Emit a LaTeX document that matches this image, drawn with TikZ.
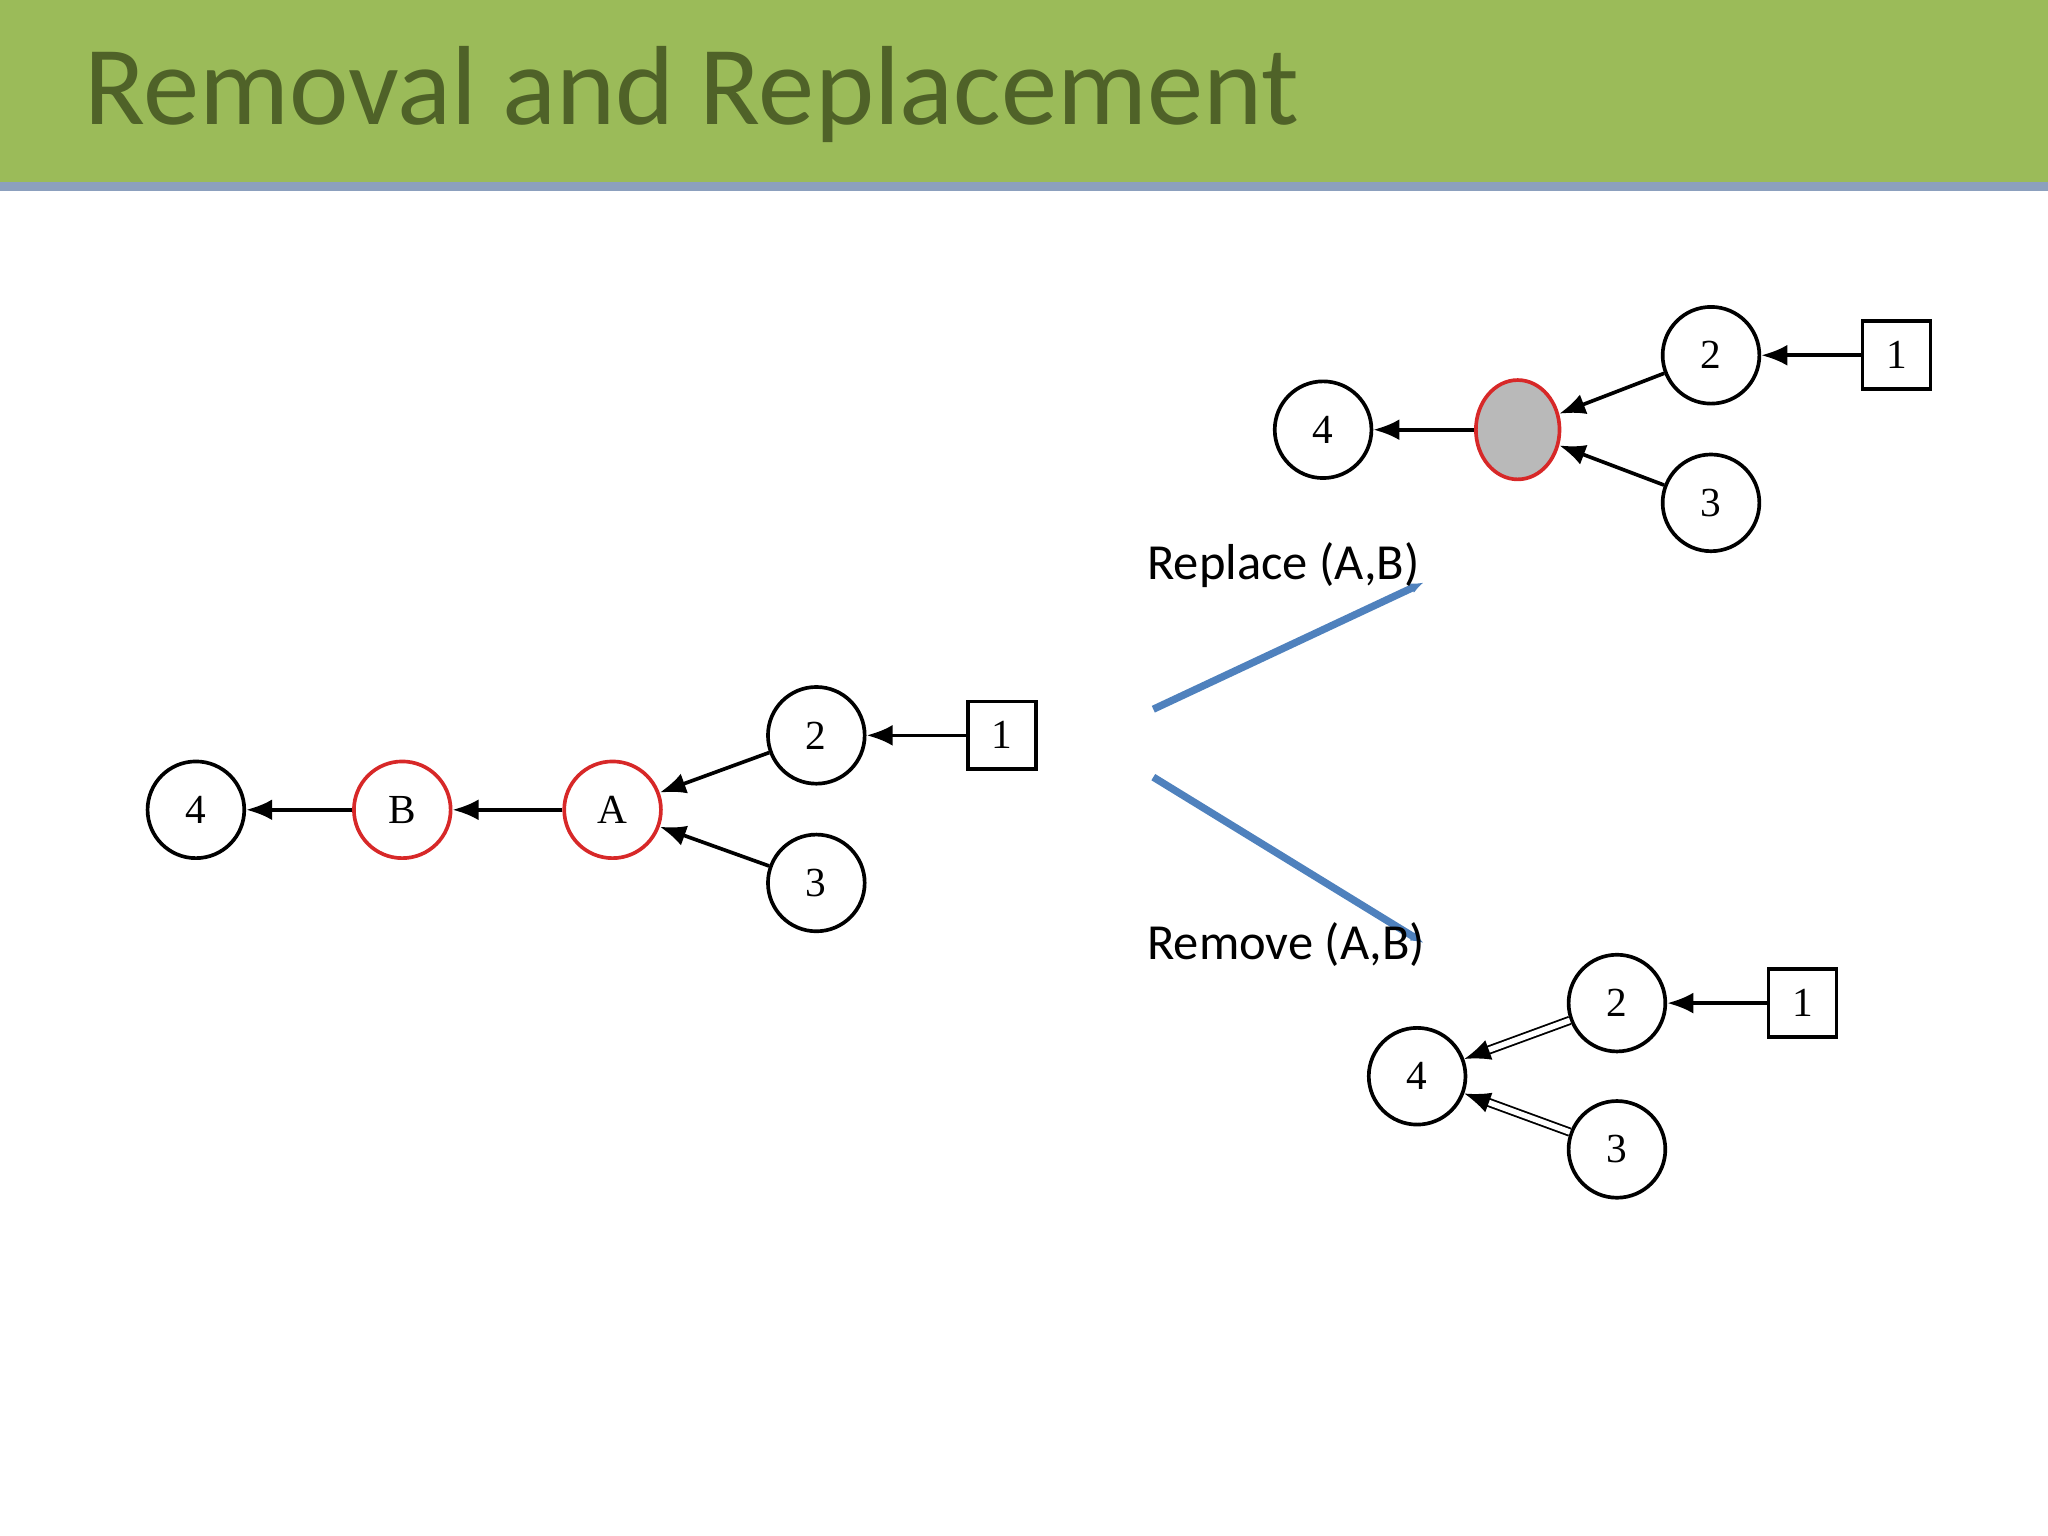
\documentclass[tikz,border=0pt]{standalone}
\usepackage{fontspec}
\setmainfont{Carlito}
\newfontfamily\serifnum{Liberation Serif}
\usetikzlibrary{arrows.meta,shapes.geometric}
\definecolor{bar}{RGB}{155,187,89}
\definecolor{bartext}{RGB}{79,98,40}
\definecolor{barline}{RGB}{140,160,190}
\definecolor{arr}{RGB}{79,129,189}
\definecolor{rd}{RGB}{215,40,40}
\begin{document}
\begin{tikzpicture}[x=0.01cm,y=-0.01cm,
  nd/.style={circle,draw,thick,minimum size=0.74cm,inner sep=0,font=\serifnum\fontsize{9}{9}\selectfont},
  red/.style={nd,draw=rd},
  sq/.style={rectangle,draw,thick,minimum size=0.52cm,inner sep=0,font=\serifnum\fontsize{9}{9}\selectfont},
  e/.style={-{Latex[length=0.2cm,width=0.16cm]},thick},
  de/.style={-{Latex[length=0.2cm,width=0.16cm]},double,double distance=1.2pt},
  blue/.style={-{Latex[length=0.1cm,width=0.08cm]},draw=arr,line width=1.6pt},
  lab/.style={font=\fontsize{11}{11}\selectfont,anchor=west}]
\useasboundingbox (0,0) rectangle (1568,1176);
\fill[bar] (0,0) rectangle (1568,141);
\draw[barline,line width=2pt] (0,143) -- (1568,143);
\node[anchor=west,text=bartext,font=\fontsize{24.5}{24}\selectfont] (title) at (52,72) {Removal and Replacement};
% left graph
\node[nd] (l4) at (150,620) {4};
\node[red] (lB) at (308,620) {B};
\node[red] (lA) at (469,620) {A};
\node[nd] (l2) at (625,563) {2};
\node[nd] (l3) at (625,676) {3};
\node[sq] (l1) at (767,563) {1};
\draw[e] (lB) -- (l4);
\draw[e] (lA) -- (lB);
\draw[e] (l2) -- (lA);
\draw[e] (l3) -- (lA);
\draw[e] (l1) -- (l2);
% top right
\node[nd] (t4) at (1013,329) {4};
\node[ellipse,draw=rd,thick,fill=gray!55,minimum width=0.64cm,minimum height=0.76cm,inner sep=0] (tx) at (1162,329) {};
\node[nd] (t2) at (1310,272) {2};
\node[nd] (t3) at (1310,385) {3};
\node[sq] (t1) at (1452,272) {1};
\draw[e] (tx) -- (t4);
\draw[e] (t2) -- (tx);
\draw[e] (t3) -- (tx);
\draw[e] (t1) -- (t2);
% bottom right
\node[nd] (b4) at (1085,824) {4};
\node[nd] (b2) at (1238,768) {2};
\node[nd] (b3) at (1238,880) {3};
\node[sq] (b1) at (1380,768) {1};
\draw[de] (b2) -- (b4);
\draw[de] (b3) -- (b4);
\draw[e] (b1) -- (b2);
% transitions
\coordinate (s1) at (883,543); \coordinate (e1) at (1090,446);
\coordinate (s2) at (883,595); \coordinate (e2) at (1090,722);
\draw[blue] (s1) -- (e1);
\draw[blue] (s2) -- (e2);
\node[lab] (rep) at (866,433) {Replace (A,B)};
\node[lab] (rem) at (866,723) {Remove (A,B)};
\end{tikzpicture}
\end{document}
